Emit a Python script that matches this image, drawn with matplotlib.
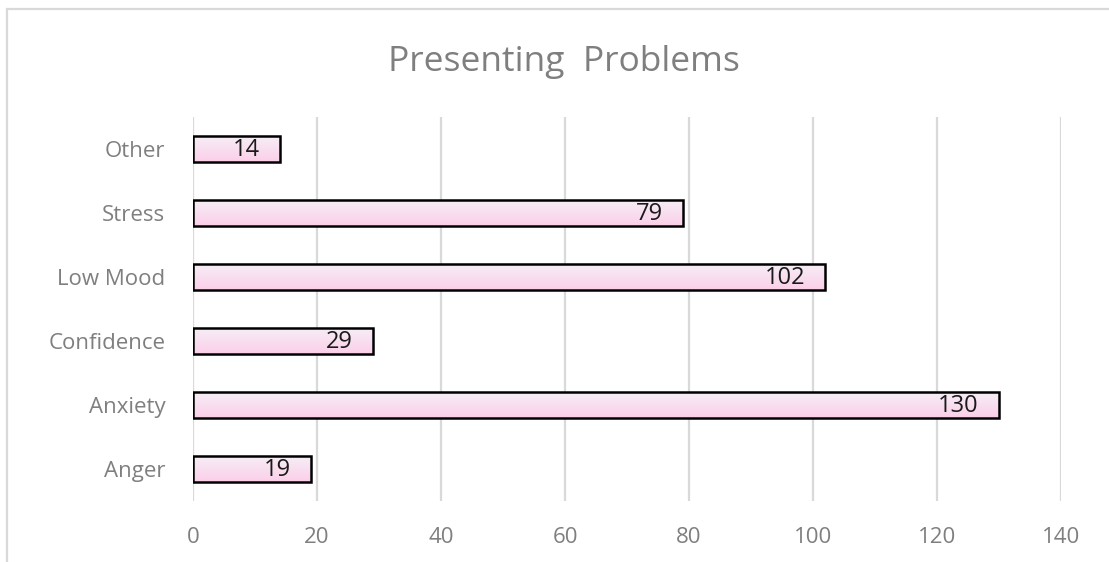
import matplotlib
matplotlib.use("Agg")
import matplotlib.pyplot as plt
import numpy as np
from matplotlib.colors import LinearSegmentedColormap
from matplotlib.patches import Rectangle

categories = ["Anger", "Anxiety", "Confidence", "Low Mood", "Stress", "Other"]
counts = [19, 130, 29, 102, 79, 14]
x_ticks = [0, 20, 40, 60, 80, 100, 120, 140]
title = "Presenting  Problems"

plt.rcParams["font.family"] = ["Open Sans", "DejaVu Sans"]

fig = plt.figure(figsize=(11.09, 5.62), dpi=100)
fig.patch.set_facecolor("white")

# chart frame
fig.add_artist(Rectangle((7 / 1109, -0.05), 1.1, 1 - 9 / 562 + 0.05,
                         transform=fig.transFigure, fill=False,
                         edgecolor="#d9d9d9", linewidth=1.6))

ax = fig.add_axes([193 / 1109, 1 - 501 / 562, (1061 - 193) / 1109, (501 - 117) / 562])

y = np.arange(len(categories))
bars = ax.barh(y, counts, height=0.42, facecolor="none", edgecolor="black",
               linewidth=1.8, zorder=4)

grad = LinearSegmentedColormap.from_list("pinkfade", ["#fbcfe9", "#f6eff6"])
gradient = np.linspace(0, 1, 64).reshape(-1, 1)
for bar, v in zip(bars, counts):
    x0, y0 = bar.get_x(), bar.get_y()
    w, h = bar.get_width(), bar.get_height()
    im = ax.imshow(gradient, cmap=grad, aspect="auto", origin="lower",
                   extent=(x0, x0 + w, y0, y0 + h), zorder=3)
    im.set_clip_path(bar)
    ax.annotate(str(v), (x0 + w, y0 + h / 2), xytext=(-14.5, -1.0),
                textcoords="offset points", ha="right", va="center",
                fontsize=17, color="#1a1a1a", zorder=5)

ax.set_xlim(0, 140)
ax.set_ylim(-0.5, len(categories) - 0.5)
ax.set_xticks(x_ticks)
ax.set_yticks(y)
ax.set_yticklabels(categories)
ax.xaxis.grid(True, color="#d9d9d9", linewidth=1.6, zorder=0)
ax.set_axisbelow(True)
for s in ax.spines.values():
    s.set_visible(False)
ax.tick_params(axis="both", length=0, labelsize=16, labelcolor="#7f7f7f")
ax.tick_params(axis="x", pad=19)
ax.tick_params(axis="y", pad=20)

fig.text(564 / 1109, 1 - 62 / 562, title, ha="center", va="center",
         fontsize=25.5, color="#7f7f7f")

fig.savefig("out.png", dpi=100)
